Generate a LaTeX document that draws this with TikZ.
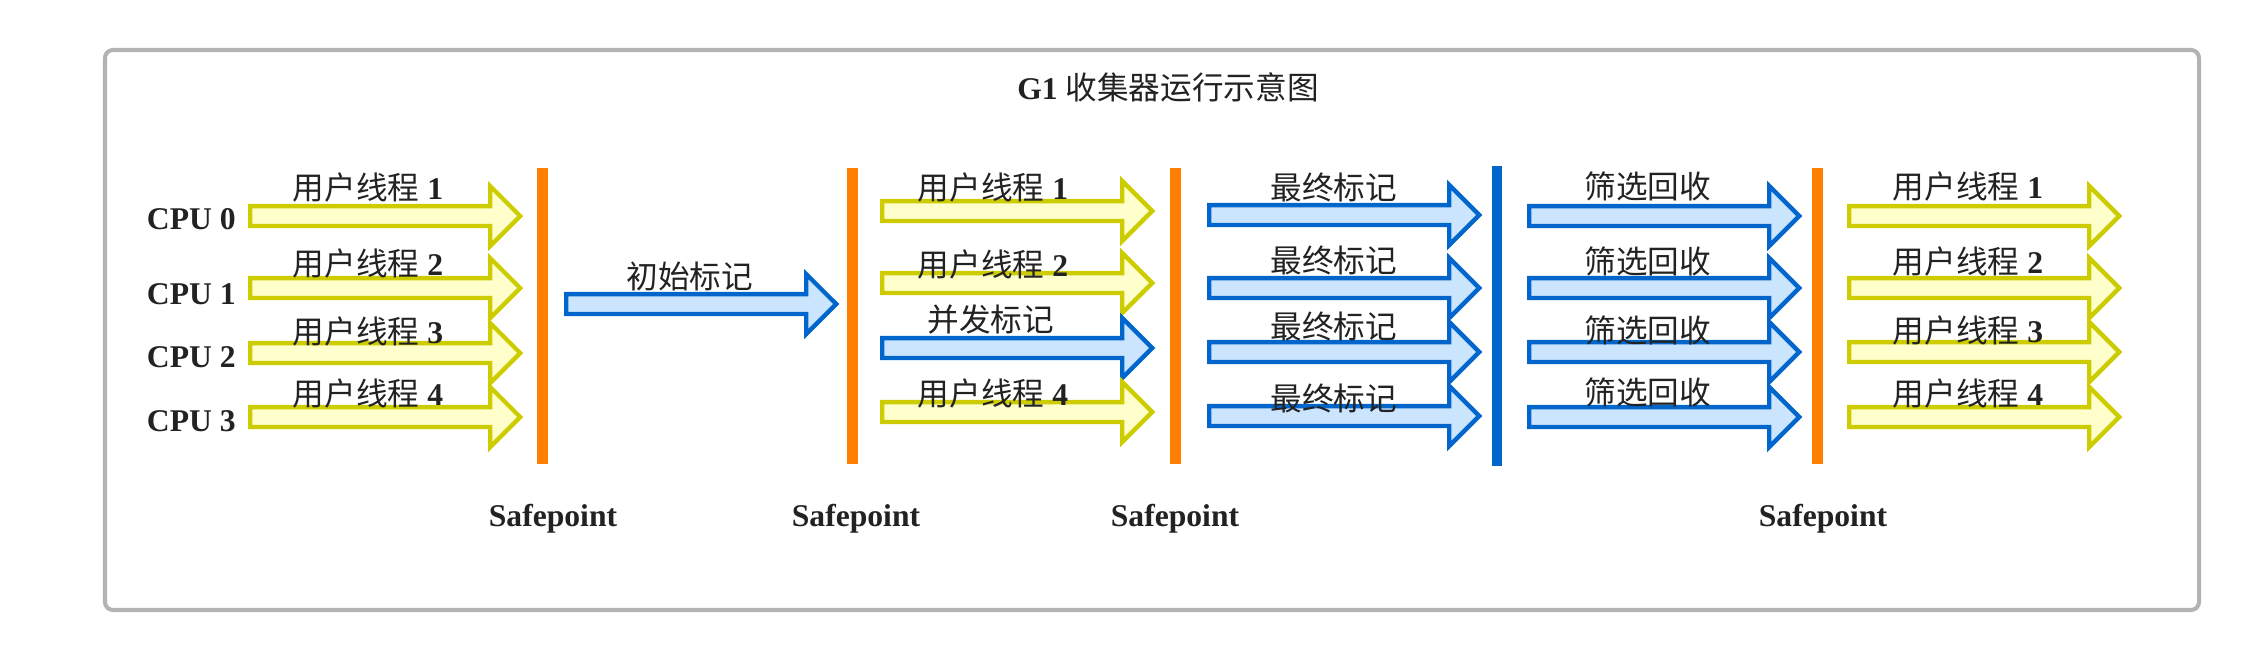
\documentclass[tikz,border=0pt]{standalone}
\usepackage{fontspec}
\setmainfont{Liberation Serif}
\newfontfamily\cjk{Noto Sans CJK SC}
\usetikzlibrary{shapes.arrows,positioning}

\definecolor{ylwline}{RGB}{204,204,0}
\definecolor{ylwfill}{RGB}{255,255,204}
\definecolor{gcline}{RGB}{0,102,204}
\definecolor{gcfill}{RGB}{204,229,255}
\definecolor{sporange}{RGB}{255,128,0}
\definecolor{framegray}{RGB}{179,179,179}
\definecolor{ink}{RGB}{34,34,34}

\newcommand*{\arrowlen}{5.4cm}
\newcommand*{\txtsize}{\fontsize{18}{22}\selectfont}

\begin{document}
\begin{tikzpicture}
[
	x=0.02cm,y=-0.02cm,
	phase/.style={single arrow,single arrow head extend=0.4cm,inner sep=0pt,
		text height=0.31cm,text depth=0pt,line width=2.5pt,
		minimum height=\arrowlen,anchor=tail},
	userarrow/.style={phase,draw=ylwline,fill=ylwfill},
	gcarrow/.style={phase,draw=gcline,fill=gcfill},
	lbl/.style={inner sep=0pt,text=ink,font=\txtsize},
	cpu/.style={inner sep=0pt,text=ink,font=\txtsize\bfseries},
	sptxt/.style={inner sep=0pt,text=ink,font=\txtsize\bfseries},
	spbar/.style={rectangle,fill=sporange,inner sep=0pt,minimum width=0.22cm,minimum height=5.92cm},
	gcbar/.style={rectangle,fill=gcline,inner sep=0pt,minimum width=0.2cm,minimum height=6cm}
]
	\useasboundingbox (0,0) rectangle (2249,660);

	% frame and title
	\draw[framegray,line width=2.3pt,rounded corners=0.16cm] (105,50) rectangle (2199,610);
	\node[lbl] (title) at (1168,87) {\textbf{G1} {\cjk 收集器运行示意图}};

	% safepoint bars
	\node[spbar] (sp1) at (542,316) {};
	\node[spbar] (sp2) at (852,316) {};
	\node[spbar] (sp3) at (1175,316) {};
	\node[gcbar] (gcb) at (1497,316) {};
	\node[spbar] (sp4) at (1817,316) {};

	\node[sptxt,below=0.8cm of sp1,xshift=0.22cm] (spt1) {Safepoint};
	\node[sptxt,below=0.8cm of sp2,xshift=0.08cm] (spt2) {Safepoint};
	\node[sptxt,below=0.8cm of sp3] (spt3) {Safepoint};
	\node[sptxt,below=0.8cm of sp4,xshift=0.12cm] (spt4) {Safepoint};

	% user threads, CPU 0-3
	\node[userarrow] (a1) at (248,216) {};
	\node[lbl] (a1t) at ([shift={(2.4cm,0.58cm)}]a1.tail) {{\cjk 用户线程} \textbf{1}};
	\node[cpu,left=0.24cm of a1.tail,yshift=-0.06cm] (cpu0) {CPU 0};
	%
	\node[userarrow] (a2) at (248,288) {};
	\node[lbl] (a2t) at ([shift={(2.4cm,0.5cm)}]a2.tail) {{\cjk 用户线程} \textbf{2}};
	\node[cpu,left=0.24cm of a2.tail,yshift=-0.12cm] (cpu1) {CPU 1};
	%
	\node[userarrow] (a3) at (248,353) {};
	\node[lbl] (a3t) at ([shift={(2.4cm,0.44cm)}]a3.tail) {{\cjk 用户线程} \textbf{3}};
	\node[cpu,left=0.24cm of a3.tail,yshift=-0.08cm] (cpu2) {CPU 2};
	%
	\node[userarrow] (a4) at (248,417) {};
	\node[lbl] (a4t) at ([shift={(2.4cm,0.48cm)}]a4.tail) {{\cjk 用户线程} \textbf{4}};
	\node[cpu,left=0.24cm of a4.tail,yshift=-0.08cm] (cpu3) {CPU 3};

	% initial mark
	\node[gcarrow] (init) at (564,304) {};
	\node[lbl] (initt) at ([shift={(2.52cm,0.56cm)}]init.tail) {\cjk 初始标记};

	% concurrent mark and user threads
	\node[userarrow] (b1) at (880,211) {};
	\node[lbl] (b1t) at ([shift={(2.26cm,0.48cm)}]b1.tail) {{\cjk 用户线程} \textbf{1}};
	%
	\node[userarrow] (b2) at (880,283) {};
	\node[lbl] (b2t) at ([shift={(2.26cm,0.38cm)}]b2.tail) {{\cjk 用户线程} \textbf{2}};
	%
	\node[gcarrow] (conc) at (880,348) {};
	\node[lbl] (conct) at ([shift={(2.22cm,0.56cm)}]conc.tail) {\cjk 并发标记};
	%
	\node[userarrow] (b4) at (880,412) {};
	\node[lbl] (b4t) at ([shift={(2.26cm,0.38cm)}]b4.tail) {{\cjk 用户线程} \textbf{4}};

	% final mark
	\node[gcarrow] (rem1) at (1207,215) {};
	\node[lbl] (rem1t) at ([shift={(2.54cm,0.56cm)}]rem1.tail) {\cjk 最终标记};
	%
	\node[gcarrow] (rem2) at (1207,288) {};
	\node[lbl] (rem2t) at ([shift={(2.54cm,0.56cm)}]rem2.tail) {\cjk 最终标记};
	%
	\node[gcarrow] (rem3) at (1207,352) {};
	\node[lbl] (rem3t) at ([shift={(2.54cm,0.52cm)}]rem3.tail) {\cjk 最终标记};
	%
	\node[gcarrow] (rem4) at (1207,416) {};
	\node[lbl] (rem4t) at ([shift={(2.54cm,0.36cm)}]rem4.tail) {\cjk 最终标记};

	% live data counting and evacuation
	\node[gcarrow] (evac1) at (1527,216) {};
	\node[lbl] (evac1t) at ([shift={(2.42cm,0.6cm)}]evac1.tail) {\cjk 筛选回收};
	%
	\node[gcarrow] (evac2) at (1527,288) {};
	\node[lbl] (evac2t) at ([shift={(2.42cm,0.54cm)}]evac2.tail) {\cjk 筛选回收};
	%
	\node[gcarrow] (evac3) at (1527,352) {};
	\node[lbl] (evac3t) at ([shift={(2.42cm,0.44cm)}]evac3.tail) {\cjk 筛选回收};
	%
	\node[gcarrow] (evac4) at (1527,417) {};
	\node[lbl] (evac4t) at ([shift={(2.42cm,0.5cm)}]evac4.tail) {\cjk 筛选回收};

	% user threads again
	\node[userarrow] (c1) at (1847,216) {};
	\node[lbl] (c1t) at ([shift={(2.42cm,0.6cm)}]c1.tail) {{\cjk 用户线程} \textbf{1}};
	%
	\node[userarrow] (c2) at (1847,288) {};
	\node[lbl] (c2t) at ([shift={(2.42cm,0.54cm)}]c2.tail) {{\cjk 用户线程} \textbf{2}};
	%
	\node[userarrow] (c3) at (1847,352) {};
	\node[lbl] (c3t) at ([shift={(2.42cm,0.44cm)}]c3.tail) {{\cjk 用户线程} \textbf{3}};
	%
	\node[userarrow] (c4) at (1847,417) {};
	\node[lbl] (c4t) at ([shift={(2.42cm,0.48cm)}]c4.tail) {{\cjk 用户线程} \textbf{4}};

\end{tikzpicture}
\end{document}
